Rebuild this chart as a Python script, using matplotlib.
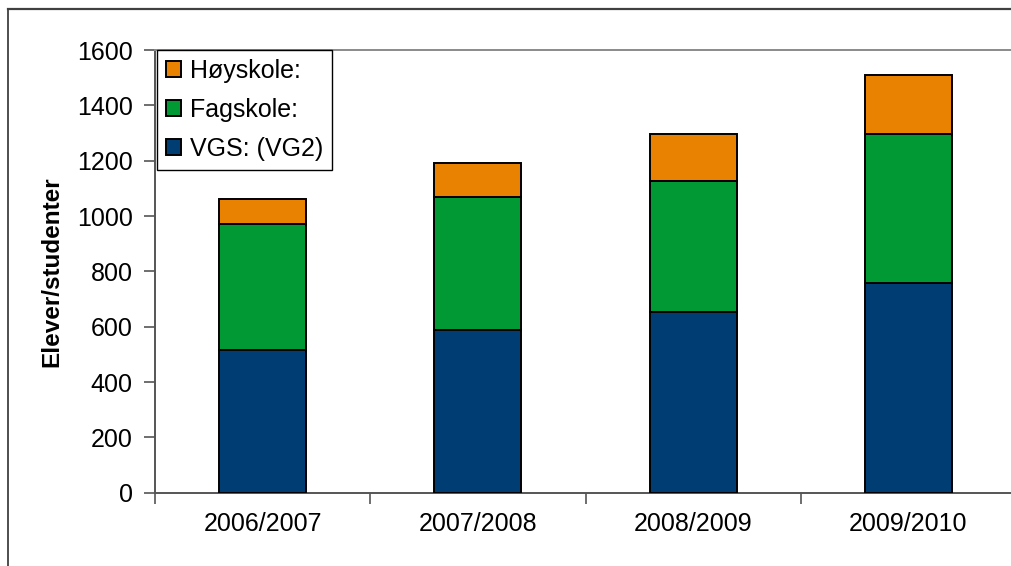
import matplotlib
matplotlib.use("Agg")
import matplotlib.pyplot as plt
from matplotlib.lines import Line2D
import numpy as np

# Student counts per school year
years = ["2006/2007", "2007/2008", "2008/2009", "2009/2010"]
vgs = [516, 587, 652, 758]
fagskole = [454, 483, 475, 537]
hoyskole = [91, 122, 169, 213]

series_labels = ["VGS: (VG2)", "Fagskole:", "Høyskole:"]
colors = ["#003D73", "#009933", "#E88200"]

plt.rcParams["font.family"] = ["Liberation Sans", "DejaVu Sans"]
FS = 18

W, H = 1011, 566
fig = plt.figure(figsize=(W / 100, H / 100), dpi=100)

# Plot area in pixel coordinates (extends slightly past the right edge)
left_px, right_px, top_px, bottom_px = 155, 1016, 50, 492.7
ax = fig.add_axes([left_px / W, 1 - bottom_px / H,
                   (right_px - left_px) / W, (bottom_px - top_px) / H])

x = np.arange(len(years))
width = 0.405
bottom = np.zeros(len(years))
bars = []
for vals, lab, col in zip([vgs, fagskole, hoyskole], series_labels, colors):
    b = ax.bar(x, vals, width, bottom=bottom, color=col, edgecolor="black",
               linewidth=1.4, label=lab, zorder=3)
    bars.append(b)
    bottom = bottom + np.array(vals)

ax.set_xlim(-0.5, len(years) - 0.5)
ax.set_ylim(0, 1600)
ax.set_yticks(np.arange(0, 1601, 200))
ax.tick_params(axis="y", labelsize=FS, length=8, width=1.2, color="#555555",
               pad=8, direction="out")

# category boundaries carry the tick marks, centres carry the labels
ax.set_xticks(np.arange(-0.5, len(years), 1.0))
ax.set_xticklabels([])
ax.set_xticks(x, minor=True)
ax.set_xticklabels(years, minor=True)
ax.tick_params(axis="x", which="major", length=8, width=1.2, color="#555555",
               direction="out")
ax.tick_params(axis="x", which="minor", length=0, labelsize=FS, pad=14)

for s in ["left", "bottom"]:
    ax.spines[s].set_color("#555555")
    ax.spines[s].set_linewidth(1.4)
ax.spines["top"].set_color("#8a8a8a")
ax.spines["top"].set_linewidth(1.4)
ax.spines["right"].set_color("#8a8a8a")

fig.text(52 / W, 1 - 272 / H, "Elever/studenter", rotation=90,
         fontsize=17.5, fontweight="bold", ha="center", va="center")

handles = [bars[2], bars[1], bars[0]]
leg = ax.legend(handles, [series_labels[2], series_labels[1], series_labels[0]],
                loc="upper left", bbox_to_anchor=(157 / W, 1 - 50 / H),
                bbox_transform=fig.transFigure, fontsize=FS, frameon=True,
                fancybox=False, edgecolor="black", framealpha=1,
                borderaxespad=0, borderpad=0.35, handlelength=0.6,
                handleheight=0.6, handletextpad=0.35, labelspacing=0.6)
leg.get_frame().set_linewidth(1.0)
leg.set_zorder(5)

# Chart outer border (left and top edges visible)
fig.add_artist(Line2D([8 / W, 8 / W], [0, 1 - 9 / H], transform=fig.transFigure,
                      color="#404040", linewidth=1.3))
fig.add_artist(Line2D([8 / W, 1], [1 - 9 / H, 1 - 9 / H], transform=fig.transFigure,
                      color="#404040", linewidth=1.6))

fig.savefig("out.png", dpi=100)
